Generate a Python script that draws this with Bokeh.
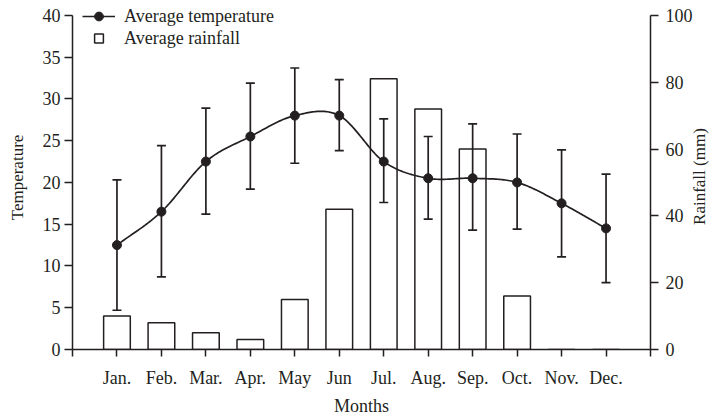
import numpy as np
from bokeh.plotting import figure
from bokeh.models import (Range1d, LinearAxis, FixedTicker, ColumnDataSource,
                          Whisker, TeeHead, Legend, LegendItem)
from bokeh.embed import file_html
from bokeh.resources import INLINE

# ---- data ----
months = ["Jan.", "Feb.", "Mar.", "Apr.", "May", "Jun",
          "Jul.", "Aug.", "Sep.", "Oct.", "Nov.", "Dec."]
month_pos = list(range(1, 13))
temp_mean = [12.5, 16.5, 22.5, 25.5, 28.0, 28.0, 22.5, 20.5, 20.5, 20.0, 17.5, 14.5]
temp_upper = [20.3, 24.4, 28.9, 31.9, 33.7, 32.3, 27.6, 25.5, 27.0, 25.8, 23.9, 21.0]
temp_lower = [4.7, 8.7, 16.2, 19.2, 22.3, 23.8, 17.6, 15.6, 14.3, 14.4, 11.1, 8.0]
rainfall = [10, 8, 5, 3, 15, 42, 81, 72, 60, 16, 0, 0]
temp_ticks = list(range(0, 41, 5))
rain_ticks = list(range(0, 101, 20))
temp_max, rain_max = 40, 100

INK = "#231f20"
FONT = "Liberation Serif"

W, H = 721, 418
BORDER_L, BORDER_R, BORDER_T, BORDER_B = 72, 65, 5, 65
AXIS_TOP_PX = 15            # where the top of the axes sits (page pixels)
RAIN_TITLE_START_PX = 227   # page y where the rotated right title begins


def smooth_curve(xs, ys, n=30):
    """Cubic Hermite (Catmull-Rom) curve through the data points, for drawing."""
    xs = np.asarray(xs, float)
    ys = np.asarray(ys, float)
    m = np.empty_like(ys)
    m[1:-1] = (ys[2:] - ys[:-2]) / (xs[2:] - xs[:-2])
    m[0] = (ys[1] - ys[0]) / (xs[1] - xs[0])
    m[-1] = (ys[-1] - ys[-2]) / (xs[-1] - xs[-2])
    ox, oy = [], []
    for i in range(len(xs) - 1):
        h = xs[i + 1] - xs[i]
        t = np.linspace(0, 1, n, endpoint=(i == len(xs) - 2))
        h00 = 2 * t**3 - 3 * t**2 + 1
        h10 = t**3 - 2 * t**2 + t
        h01 = -2 * t**3 + 3 * t**2
        h11 = t**3 - t**2
        ox.extend(xs[i] + t * h)
        oy.extend(h00 * ys[i] + h10 * h * m[i] + h01 * ys[i + 1] + h11 * h * m[i + 1])
    return ox, oy


# frame is a little taller than the axes so the legend is not clipped
frame_h = H - BORDER_T - BORDER_B
axis_h = H - AXIS_TOP_PX - BORDER_B
scale = frame_h / axis_h

p = figure(width=W, height=H, output_backend="svg", toolbar_location=None,
           x_range=Range1d(0, 13), y_range=Range1d(0, temp_max * scale),
           min_border_left=BORDER_L, min_border_right=BORDER_R,
           min_border_top=BORDER_T, min_border_bottom=BORDER_B)
p.extra_y_ranges = {"rain": Range1d(0, rain_max * scale)}
p.outline_line_color = None
p.xgrid.visible = False
p.ygrid.visible = False
p.background_fill_color = "white"
p.border_fill_color = "white"


def style_axis(ax, tick_out, standoff):
    ax.axis_line_color = INK
    ax.axis_line_width = 1.5
    ax.major_tick_line_color = INK
    ax.major_tick_line_width = 1.5
    ax.major_tick_in = 0
    ax.major_tick_out = tick_out
    ax.minor_tick_line_color = None
    ax.major_label_text_font = FONT
    ax.major_label_text_font_size = "18px"
    ax.major_label_text_color = INK
    ax.major_label_standoff = standoff
    ax.axis_label_text_font = FONT
    ax.axis_label_text_font_style = "normal"
    ax.axis_label_text_color = INK


# x axis
xax = p.xaxis[0]
xax.ticker = FixedTicker(ticks=list(range(0, 14)))
overrides = {0: "", 13: ""}
for pos, name in zip(month_pos, months):
    overrides[pos] = name
xax.major_label_overrides = overrides
style_axis(xax, 7, 11)
xax.axis_label = "Months"
xax.axis_label_text_font_size = "18px"
xax.axis_label_standoff = 5

# left axis
yax = p.yaxis[0]
yax.ticker = FixedTicker(ticks=temp_ticks)
yax.bounds = (0, temp_max)
style_axis(yax, 8, 4)
yax.axis_label = "Temperature"
yax.axis_label_text_font_size = "17px"
yax.axis_label_standoff = 13

# right axis
rax = LinearAxis(y_range_name="rain", ticker=FixedTicker(ticks=rain_ticks),
                 bounds=(0, rain_max))
style_axis(rax, 8, 7)
p.add_layout(rax, "right")

# right axis title (bottom-to-top), drawn as the single label of a bare axis
title_pos = (H - BORDER_B - RAIN_TITLE_START_PX) / axis_h * rain_max
tax = LinearAxis(y_range_name="rain", ticker=FixedTicker(ticks=[title_pos]),
                 major_label_overrides={title_pos: "Rainfall (mm)"})
tax.axis_line_color = None
tax.major_tick_line_color = None
tax.minor_tick_line_color = None
tax.major_tick_in = 0
tax.major_tick_out = 0
tax.major_label_standoff = 4
tax.major_label_orientation = np.pi / 2
tax.major_label_text_font = FONT
tax.major_label_text_font_size = "17px"
tax.major_label_text_color = INK
p.add_layout(tax, "right")

# bars (rainfall)
p.vbar(x=month_pos, top=rainfall, bottom=0, width=0.6, y_range_name="rain",
       fill_color="white", line_color=INK, line_width=1.5)

# error bars
src = ColumnDataSource(dict(x=month_pos, upper=temp_upper, lower=temp_lower))
wh = Whisker(source=src, base="x", upper="upper", lower="lower",
             line_color=INK, line_width=1.7, level="annotation",
             upper_head=TeeHead(size=9, line_color=INK, line_width=1.7),
             lower_head=TeeHead(size=9, line_color=INK, line_width=1.7))
p.add_layout(wh)

# temperature curve + points
cx, cy = smooth_curve(month_pos, temp_mean)
line_r = p.line(cx, cy, line_color=INK, line_width=1.7)
dot_r = p.scatter(month_pos, temp_mean, size=9, marker="circle",
                  fill_color=INK, line_color=INK)
dot_r.level = "overlay"

# legend proxy for rainfall (no visible point)
sq_r = p.scatter(x=[np.nan], y=[np.nan], marker="square", fill_color="white",
                 line_color=INK, line_width=1.5)

legend = Legend(items=[LegendItem(label="Average temperature", renderers=[line_r, dot_r]),
                       LegendItem(label="Average rainfall", renderers=[sq_r])],
                location=(10, 300), orientation="vertical",
                padding=0, spacing=0, margin=0,
                glyph_width=33, glyph_height=22, label_height=22,
                label_standoff=9,
                label_text_font=FONT, label_text_font_size="18px",
                label_text_color=INK,
                background_fill_alpha=0, border_line_color=None)
p.add_layout(legend, "center")

open("out.html", "w").write(file_html(p, INLINE))
